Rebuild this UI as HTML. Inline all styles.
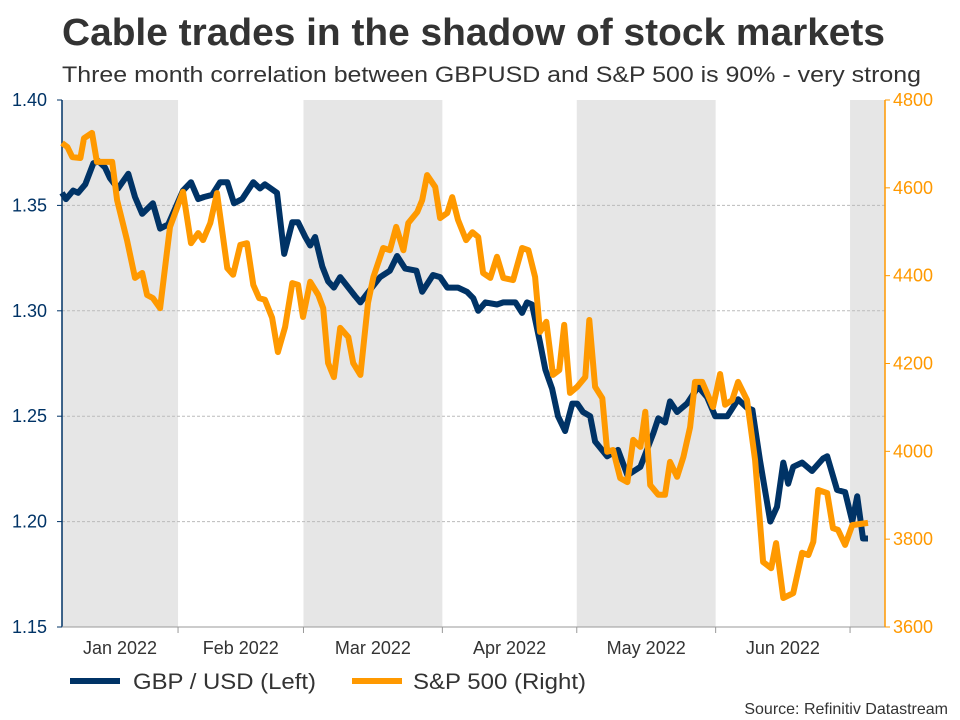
<!DOCTYPE html>
<html><head><meta charset="utf-8"><style>
body{margin:0;background:#fff;font-family:"Liberation Sans",Arial,sans-serif}
svg{display:block}
</style></head><body>
<svg id="chart" width="960" height="720" xmlns="http://www.w3.org/2000/svg">
<text x="62" y="45" font-size="38" font-weight="bold" fill="#333" textLength="823" lengthAdjust="spacingAndGlyphs">Cable trades in the shadow of stock markets</text>
<text x="62" y="82" font-size="22" fill="#333" textLength="859" lengthAdjust="spacingAndGlyphs">Three month correlation between GBPUSD and S&amp;P 500 is 90% - very strong</text>
<g id="bands"></g><g id="grid"></g><g id="axes"></g><g id="series"></g>
<g>
<line x1="70" y1="681" x2="120" y2="681" stroke="#003366" stroke-width="6"/>
<text x="133" y="689" font-size="22" fill="#333" textLength="183" lengthAdjust="spacingAndGlyphs">GBP / USD (Left)</text>
<line x1="352" y1="681" x2="402" y2="681" stroke="#ff9900" stroke-width="6"/>
<text x="413" y="689" font-size="22" fill="#333" textLength="173" lengthAdjust="spacingAndGlyphs">S&amp;P 500 (Right)</text>
</g>
<text x="948" y="714" text-anchor="end" font-size="16" fill="#333">Source: Refinitiv Datastream</text>
</svg>
<script>
const monthLabels=["Jan 2022","Feb 2022","Mar 2022","Apr 2022","May 2022","Jun 2022"];
const monthStartDays=[0,31,59,90,120,151,181];
const leftTicks=[1.15,1.20,1.25,1.30,1.35,1.40];
const rightTicks=[3600,3800,4000,4200,4400,4600,4800];
const gbpDays=[5.1,6.0,7.6,8.7,10.3,12.1,13.2,14.7,15.8,17.6,19.9,21.4,23.0,25.4,27.0,28.8,32.1,33.9,35.5,36.8,38.6,40.4,42.0,43.5,45.3,47.8,49.3,50.4,53.1,54.7,56.5,57.8,59.4,60.5,61.6,63.2,64.5,65.8,67.2,70.5,71.7,73.9,76.1,78.3,79.9,81.7,84.2,85.5,87.9,89.5,91.1,93.5,95.5,96.9,98.0,99.6,102.2,103.6,106.3,107.8,108.9,110.0,111.8,113.0,114.5,115.8,117.4,119.0,120.1,121.4,123.0,124.1,126.8,129.2,131.3,134.2,137.1,138.2,139.7,140.8,142.4,144.6,147.1,149.1,150.9,153.6,156.0,158.0,159.2,160.9,163.2,164.7,166.1,167.2,168.3,170.3,172.5,175.0,175.9,178.1,179.9,181.5,182.6,183.9,185.0];
const gbpValues=[1.356,1.353,1.357,1.356,1.360,1.370,1.371,1.368,1.363,1.358,1.365,1.354,1.346,1.351,1.339,1.341,1.357,1.361,1.353,1.354,1.355,1.361,1.361,1.351,1.353,1.361,1.358,1.360,1.356,1.327,1.342,1.342,1.335,1.331,1.335,1.321,1.314,1.311,1.316,1.307,1.304,1.310,1.316,1.319,1.326,1.320,1.319,1.309,1.317,1.316,1.311,1.311,1.309,1.306,1.300,1.304,1.303,1.304,1.304,1.299,1.304,1.303,1.285,1.272,1.263,1.250,1.243,1.256,1.256,1.252,1.250,1.238,1.231,1.234,1.222,1.226,1.242,1.249,1.247,1.257,1.252,1.256,1.264,1.259,1.250,1.250,1.258,1.254,1.253,1.229,1.200,1.207,1.228,1.218,1.226,1.228,1.224,1.230,1.231,1.215,1.214,1.200,1.212,1.192,1.192];
const spxDays=[5.1,6.3,7.4,9.2,10.0,11.8,12.9,16.3,17.4,19.6,21.4,23.0,24.1,25.4,27.0,29.2,32.1,33.9,35.5,36.6,38.2,39.7,42.0,43.3,44.9,46.4,47.8,49.1,50.4,52.0,53.3,54.9,56.5,57.8,58.9,60.5,62.3,63.4,64.5,65.8,67.2,69.0,70.1,71.7,73.4,74.6,76.8,78.3,79.7,81.3,82.4,84.4,85.5,86.6,88.4,89.5,91.1,92.2,93.5,95.3,96.7,98.0,99.1,100.7,102.2,103.6,105.8,107.8,109.2,110.7,111.8,113.2,114.7,116.1,117.2,118.5,120.1,121.9,122.8,124.1,125.7,126.8,128.1,129.7,131.3,132.6,134.2,135.3,136.4,138.2,139.7,140.8,142.4,143.8,145.3,146.4,148.0,150.4,152.0,153.1,154.7,156.0,158.0,159.8,161.6,163.4,164.5,166.1,168.3,170.3,171.7,172.8,173.9,175.9,177.2,178.3,179.9,181.5,185.0];
const spxValues=[4702,4693,4670,4668,4713,4725,4659,4659,4572,4481,4395,4406,4356,4349,4326,4511,4591,4474,4497,4481,4520,4588,4417,4402,4470,4474,4379,4349,4345,4304,4226,4283,4383,4379,4306,4386,4356,4326,4201,4169,4281,4260,4201,4174,4338,4397,4463,4458,4511,4458,4520,4545,4572,4629,4602,4531,4543,4579,4527,4481,4499,4488,4406,4395,4443,4395,4390,4463,4458,4397,4272,4295,4174,4185,4288,4133,4147,4169,4299,4147,4121,3999,4003,3939,3930,4026,4010,4090,3923,3901,3901,3976,3942,3987,4055,4158,4158,4101,4176,4106,4117,4158,4117,3980,3748,3734,3791,3666,3677,3769,3764,3794,3912,3905,3825,3821,3787,3832,3837];

const NS="http://www.w3.org/2000/svg";
const L=62,R=885,T=100,B=627;
const xDom=[5.1,188.8];
const x=d=>L+(d-xDom[0])/(xDom[1]-xDom[0])*(R-L);
const yL=v=>B-(v-1.15)/(0.25)*(B-T);
const yR=v=>B-(v-3600)/(1200)*(B-T);
function mk(tag,attrs,parent){const e=document.createElementNS(NS,tag);for(const k in attrs)e.setAttribute(k,attrs[k]);document.getElementById(parent).appendChild(e);return e;}
for(let i=0;i<monthStartDays.length-1;i+=2){
  const x0=Math.max(L,x(monthStartDays[i])),x1=Math.min(R,x(monthStartDays[i+1]));
  const b=mk('rect',{x:x0,y:T,width:x1-x0,height:B-T,fill:'#e6e6e6'},'bands');
  
  
}
{const i=6;const x0=x(monthStartDays[i]);const b=mk('rect',{x:x0,y:T,width:R-x0,height:B-T,fill:'#e6e6e6'},'bands');

}
leftTicks.forEach(v=>{
  const y=yL(v);
  if(v>1.15&&v<1.40){const g=mk('line',{x1:L,x2:R,y1:y,y2:y,stroke:'#bbb','stroke-dasharray':'3,2','stroke-width':1},'grid');
  
  }
  mk('line',{x1:L-5,x2:L,y1:y,y2:y,stroke:'#003366'},'axes');
  const t=mk('text',{x:L-15,y:y+6,'text-anchor':'end','font-size':18,fill:'#003366'},'axes');t.textContent=v.toFixed(2);
  
  
});
rightTicks.forEach(v=>{
  const y=yR(v);
  mk('line',{x1:R,x2:R+5,y1:y,y2:y,stroke:'#ff9900'},'axes');
  const t=mk('text',{x:R+8,y:y+6,'font-size':18,fill:'#ff9900'},'axes');t.textContent=v;
  
  
});
const la=mk('line',{x1:L,x2:L,y1:T,y2:B,stroke:'#003366','stroke-width':1.5},'axes');


const ra=mk('line',{x1:R,x2:R,y1:T,y2:B,stroke:'#ff9900','stroke-width':1.5},'axes');


const xa=mk('line',{x1:L,x2:R,y1:B,y2:B,stroke:'#999'},'axes');


monthStartDays.forEach((d,i)=>{
  if(i>0){mk('line',{x1:x(d),x2:x(d),y1:B,y2:B+6,stroke:'#999'},'axes');}
  if(i<monthLabels.length){
    const cx=(Math.max(L,x(d))+x(monthStartDays[i+1]))/2;
    const t=mk('text',{x:cx,y:654,'text-anchor':'middle','font-size':18,fill:'#333'},'axes');t.textContent=monthLabels[i];
    
    
  }
});
function line(days,vals,ys,color,name){
  const d=days.map((dd,i)=>(i?'L':'M')+x(dd).toFixed(1)+','+ys(vals[i]).toFixed(1)).join('');
  const p=mk('path',{d:d,fill:'none',stroke:color,'stroke-width':6,'stroke-linejoin':'round'},'series');
  
  
}
line(gbpDays,gbpValues,yL,'#003366','gbpusd-line');
line(spxDays,spxValues,yR,'#ff9900','sp500-line');
</script>
</body></html>
